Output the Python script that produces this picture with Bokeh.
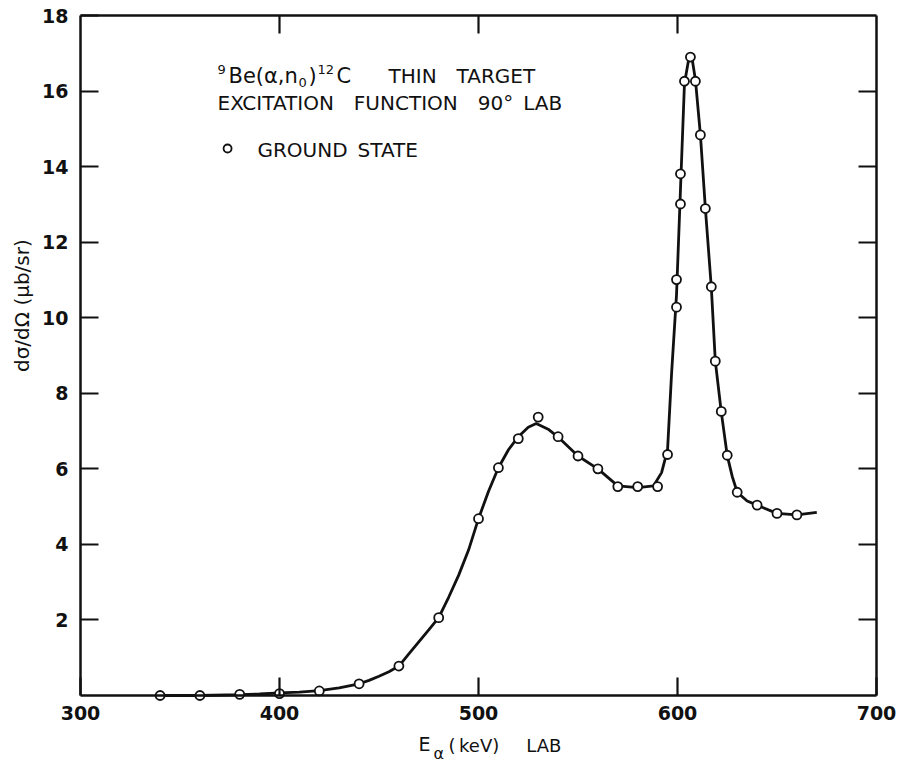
import math
from bokeh.plotting import figure
from bokeh.models import LinearAxis, FixedTicker, Label, ColumnDataSource, Range1d
from bokeh.embed import file_html
from bokeh.resources import INLINE

# measured points (ground state)
energy_kev = [340, 360, 380, 400, 420, 440, 460, 480, 500, 510, 520, 530, 540, 550,
              560, 570, 580, 590, 595, 599.5, 599.5, 601.5, 601.5, 603.5, 606.5, 609,
              611.5, 614, 617, 619, 622, 625, 630, 640, 650, 660]
cross_section = [0.0, 0.0, 0.03, 0.05, 0.12, 0.31, 0.78, 2.06, 4.68, 6.03, 6.80, 7.37,
                 6.85, 6.34, 6.0, 5.53, 5.53, 5.53, 6.38, 11.01, 10.28, 13.81, 13.01,
                 16.26, 16.9, 16.26, 14.84, 12.89, 10.82, 8.85, 7.52, 6.36, 5.38, 5.04,
                 4.82, 4.78]

# hand-drawn curve
curve_kev = [340, 360, 380, 390, 400, 410, 420, 430, 440, 445, 450, 455, 460, 465, 470,
             475, 480, 485, 490, 495, 500, 505, 510, 515, 520, 525, 529, 535, 540, 550,
             560, 570, 580, 588, 592, 595, 597, 599.5, 601.5, 603.5, 605.5, 606.5, 607.5,
             609, 611.5, 614, 617, 619, 622, 625, 627.5, 630, 635, 640, 650, 660, 670]
curve_val = [0.0, 0.0, 0.02, 0.04, 0.07, 0.09, 0.13, 0.2, 0.31, 0.4, 0.51, 0.63, 0.78,
             1.1, 1.42, 1.74, 2.06, 2.6, 3.18, 3.85, 4.68, 5.4, 6.03, 6.5, 6.85, 7.1, 7.2,
             7.05, 6.84, 6.34, 6.0, 5.55, 5.5, 5.55, 5.9, 6.5, 8.5, 10.6, 13.4, 16.2,
             16.8, 16.9, 16.8, 16.3, 14.85, 12.9, 10.8, 8.85, 7.5, 6.35, 5.8, 5.38, 5.15,
             5.04, 4.82, 4.78, 4.85]

x_ticks = [300, 400, 500, 600, 700]
y_ticks = [2, 4, 6, 8, 10, 12, 14, 16, 18]
top_ticks = [400, 500, 600]
right_ticks = [2, 4, 6, 8, 10, 12, 14, 16]

FONT = "DejaVu Sans"
INK = "#111111"
EN, EM, THIN = "\u2002", "\u2003", "\u2009"

W, H = 904, 762
# frame covers the whole canvas; axes are drawn at fixed locations inside it
PX_X = 796 / 400.0   # pixels per keV
PX_Y = 680 / 18.0    # pixels per unit
X0, X1 = 300 - 80 / PX_X, 700 + 28 / PX_X
Y0, Y1 = -(H - 695) / PX_Y, 18 + 15 / PX_Y

p = figure(width=W, height=H, x_range=Range1d(X0, X1), y_range=Range1d(Y0, Y1),
           output_backend="svg", toolbar_location=None, min_border=0,
           x_axis_location=None, y_axis_location=None)
p.xgrid.visible = False
p.ygrid.visible = False
p.outline_line_color = None
p.background_fill_color = "white"
p.border_fill_color = "white"

def make_axis(side, loc, ticks, bounds, show_labels=True, standoff=10):
    ax = LinearAxis(fixed_location=loc, bounds=bounds)
    ax.ticker = FixedTicker(ticks=ticks)
    ax.axis_line_width = 2.5
    ax.axis_line_color = INK
    ax.major_tick_in = 18
    ax.major_tick_out = 0
    ax.major_tick_line_width = 2.2
    ax.major_tick_line_color = INK
    ax.minor_tick_line_color = None
    if show_labels:
        ax.major_label_text_font = FONT
        ax.major_label_text_font_size = "19px"
        ax.major_label_text_font_style = "bold"
        ax.major_label_text_color = INK
        ax.major_label_standoff = standoff
    else:
        ax.major_label_text_font_size = "1px"
        ax.major_label_text_color = None
        ax.major_label_standoff = 0
    p.add_layout(ax, side)
    return ax

make_axis("below", 0, x_ticks, (300, 700), standoff=10)
make_axis("left", 300, y_ticks, (0, 18), standoff=12)
make_axis("above", 18, top_ticks, (300, 700), show_labels=False)
make_axis("right", 700, right_ticks, (0, 18), show_labels=False)

p.line(curve_kev, curve_val, line_color=INK, line_width=2.8)
src = ColumnDataSource(dict(x=energy_kev, y=cross_section))
p.scatter("x", "y", source=src, marker="circle", size=9, fill_color="white",
          line_color=INK, line_width=1.8)

def lab(x, y, text, size="20px", **kw):
    kw.setdefault("text_baseline", "alphabetic")
    p.add_layout(Label(x=x, y=y, text=text, text_font=FONT, text_font_size=size,
                       text_color=INK, **kw))

# legend / title block: 9Be(alpha,n0)12C  THIN TARGET
lab(368.84, 16.57, "9", size="13px")
lab(374.37, 16.41, "Be(α,n", size="21px")
lab(409.55, 16.22, "0", size="13px")
lab(414.57, 16.41, ")", size="21px")
lab(419.10, 16.57, "12", size="13px")
lab(428.64, 16.41, "C", size="21px")
lab(454.77, 16.41, "THIN" + EM + "TARGET")
lab(368.84, 15.68, "EXCITATION" + EM + "FUNCTION" + EM + "90°" + EN + "LAB")
p.scatter([373.9], [14.48], marker="circle", size=8, fill_color="white",
          line_color=INK, line_width=1.8)
lab(388.9, 14.43, "GROUND" + EN + "STATE")

# axis titles
lab(469.85, -1.562, "E", size="19px", text_baseline="bottom")
lab(477.4, -1.78, "α", size="16px", text_baseline="bottom")
lab(484.9, -1.60, "(" + THIN + "keV)" + EM + EN + "LAB", size="18px",
    text_baseline="bottom")
lab(270.85, 10.32, "dσ/dΩ (μb/sr)", size="20px", angle=math.pi / 2,
    text_align="center", text_baseline="middle")

open("out.html", "w").write(file_html(p, INLINE))
